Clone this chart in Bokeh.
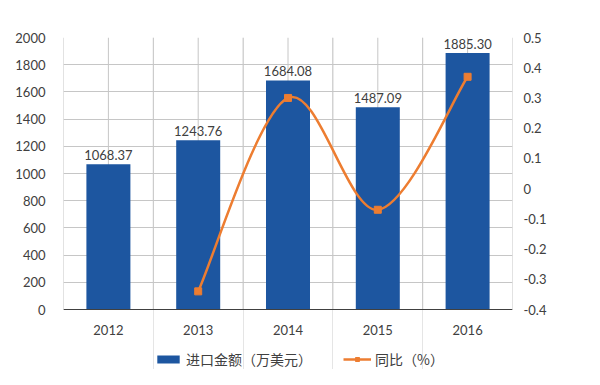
from bokeh.plotting import figure
from bokeh.models import (Range1d, LinearAxis, FixedTicker, Legend, LegendItem,
                          ColumnDataSource, CustomJSTickFormatter, Span)
from bokeh.core.properties import value
from bokeh.embed import file_html
from bokeh.resources import INLINE

# ---- data ----
years = ["2012", "2013", "2014", "2015", "2016"]
amount = [1068.37, 1243.76, 1684.08, 1487.09, 1885.30]
amount_labels = ["1068.37", "1243.76", "1684.08", "1487.09", "1885.30"]
growth_years = ["2013", "2014", "2015", "2016"]
growth = [-0.34, 0.30, -0.07, 0.37]
left_ticks = [0, 200, 400, 600, 800, 1000, 1200, 1400, 1600, 1800, 2000]
right_ticks = [-0.4, -0.3, -0.2, -0.1, 0, 0.1, 0.2, 0.3, 0.4, 0.5]
bar_name = "进口金额（万美元）"
line_name = "同比（%）"

# ---- style / layout ----
BLUE = "#1D56A0"
ORANGE = "#ED7D31"
GRID = "#C6C6C6"
TEXT = "#404040"
NUM_FONT = "Lato"
CJK_FONT = "Noto Sans CJK SC"
PLOT_H = 272      # height of the value area in px
FOOT_H = 60       # room below the value area for category labels and legend
foot_frac = FOOT_H / PLOT_H

l_lo, l_hi = left_ticks[0], left_ticks[-1]
r_lo, r_hi = right_ticks[0], right_ticks[-1]

p = figure(frame_width=449, frame_height=PLOT_H + FOOT_H, output_backend="svg",
           toolbar_location=None, x_axis_location=None,
           x_range=Range1d(0, len(years)),
           y_range=Range1d(l_lo - (l_hi - l_lo) * foot_frac, l_hi),
           min_border_left=63, min_border_right=72, min_border_top=37,
           min_border_bottom=0)
p.extra_y_ranges = {"pct": Range1d(r_lo - (r_hi - r_lo) * foot_frac, r_hi)}
p.outline_line_color = None
p.background_fill_color = "white"
p.border_fill_color = "white"

xpos = {y: i + 0.5 for i, y in enumerate(years)}
cat_x = [xpos[y] for y in years]

# vertical grid lines (category centres and boundaries), within the value area
grid_x = [i * 0.5 for i in range(2 * len(years) + 1)]
p.segment(x0=grid_x, x1=grid_x, y0=[l_lo] * len(grid_x), y1=[l_hi] * len(grid_x),
          line_color=GRID, line_width=1)

src = ColumnDataSource(dict(x=cat_x, amount=amount, label=amount_labels))
bars = p.vbar(x="x", top="amount", width=0.49, source=src,
              fill_color=BLUE, line_color=None)
p.text(x="x", y="amount", text="label", source=src, text_align="center",
       text_baseline="bottom", y_offset=-4, text_font=value(NUM_FONT),
       text_font_size="13px", text_color=TEXT)

# category baseline and labels
p.add_layout(Span(location=l_lo, dimension="width", line_color=TEXT, line_width=1))
p.text(x=cat_x, y=[l_lo] * len(cat_x), text=years, text_align="center",
       text_baseline="middle", y_offset=20, text_font=value(NUM_FONT),
       text_font_size="13px", text_color=TEXT)

# smoothed line (Catmull-Rom style bezier segments through the data points)
gx = [xpos[y] for y in growth_years]
n = len(gx)
seg = dict(x0=[], y0=[], x1=[], y1=[], cx0=[], cy0=[], cx1=[], cy1=[])
for i in range(n - 1):
    a = max(i - 1, 0)
    d = min(i + 2, n - 1)
    seg["x0"].append(gx[i]); seg["y0"].append(growth[i])
    seg["x1"].append(gx[i + 1]); seg["y1"].append(growth[i + 1])
    seg["cx0"].append(gx[i] + (gx[i + 1] - gx[a]) / 6)
    seg["cy0"].append(growth[i] + (growth[i + 1] - growth[a]) / 6)
    seg["cx1"].append(gx[i + 1] - (gx[d] - gx[i]) / 6)
    seg["cy1"].append(growth[i + 1] - (growth[d] - growth[i]) / 6)
curve = p.bezier(source=ColumnDataSource(seg), x0="x0", y0="y0", x1="x1", y1="y1",
                 cx0="cx0", cy0="cy0", cx1="cx1", cy1="cy1",
                 y_range_name="pct", line_color=ORANGE, line_width=2.5)
marks = p.scatter(x=gx, y=growth, marker="square", size=7, fill_color=ORANGE,
                  line_color=ORANGE, y_range_name="pct")

# ---- value axes ----
ya = p.yaxis[0]
ya.ticker = FixedTicker(ticks=left_ticks)
ya.axis_line_color = None
ya.major_tick_in = 0
ya.major_tick_out = 0
ya.minor_tick_line_color = None
ya.major_label_standoff = 18
ya.major_label_text_font = NUM_FONT
ya.major_label_text_font_size = "13px"
ya.major_label_text_color = TEXT

ra = LinearAxis(y_range_name="pct", ticker=FixedTicker(ticks=right_ticks),
                formatter=CustomJSTickFormatter(code="const v = Math.round(tick*10)/10; return v === 0 ? '0' : v.toFixed(1);"))
ra.axis_line_color = None
ra.major_tick_in = 0
ra.major_tick_out = 0
ra.minor_tick_line_color = None
ra.major_label_standoff = 11
ra.major_label_text_font = NUM_FONT
ra.major_label_text_font_size = "13px"
ra.major_label_text_color = TEXT
p.add_layout(ra, "right")

# ---- horizontal grid ----
p.ygrid.ticker = FixedTicker(ticks=left_ticks)
p.ygrid.grid_line_color = GRID
p.ygrid.grid_line_width = 1

# ---- legend ----
legend = Legend(items=[LegendItem(label=bar_name, renderers=[bars]),
                       LegendItem(label=line_name, renderers=[curve, marks])],
                orientation="horizontal", location=(91, 0),
                label_text_font=CJK_FONT, label_text_font_size="14px",
                label_text_color=TEXT, glyph_width=28, glyph_height=10,
                label_height=18, label_standoff=4, spacing=31, padding=1, margin=0,
                border_line_color=None, background_fill_alpha=0)
p.add_layout(legend, "center")

open("out.html", "w").write(file_html(p, INLINE))
